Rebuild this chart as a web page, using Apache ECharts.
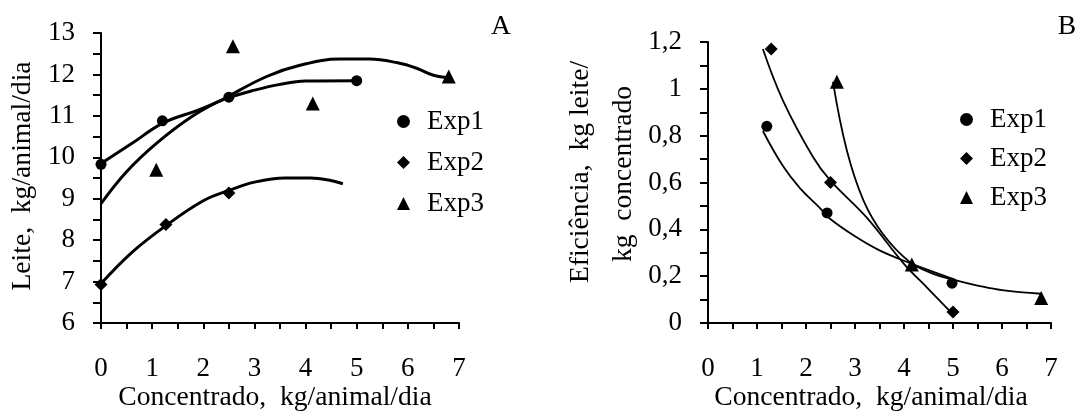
<!DOCTYPE html>
<html>
<head>
<meta charset="utf-8">
<script src="https://cdn.jsdelivr.net/npm/echarts@6/dist/echarts.min.js"></script>
<style>
html,body{margin:0;padding:0;background:#fff;}
#c{width:1077px;height:417px;}
</style>
</head>
<body>
<div id="c"></div>
<script>
// ---------- Data ----------
// Panel A: milk yield (kg/animal/day) vs concentrate (kg/animal/day)
const aExp1 = [[0, 9.83], [1.2, 10.88], [2.5, 11.45], [5.0, 11.85]];
const aExp2 = [[0, 6.93], [1.27, 8.38], [2.5, 9.14]];
const aExp3 = [[1.08, 9.7], [2.58, 12.68], [4.14, 11.3], [6.8, 11.95]];
// fitted curves
const aFit1 = [[0, 9.85], [0.6, 10.33], [1.2, 10.82], [1.9, 11.14], [2.5, 11.44], [3.0, 11.62], [3.5, 11.76], [4.0, 11.84], [5.0, 11.85]];
const aFit2 = [[0, 6.95], [0.6, 7.7], [1.27, 8.35], [2.0, 8.95], [2.5, 9.2], [3.0, 9.4], [3.6, 9.5], [4.1, 9.5], [4.45, 9.45], [4.73, 9.36]];
const aFit3 = [[0, 8.88], [0.5, 9.65], [1.09, 10.34], [1.8, 11.0], [2.46, 11.45], [3.24, 11.95], [3.89, 12.22], [4.67, 12.37], [5.25, 12.37], [5.8, 12.28], [6.17, 12.15], [6.5, 11.98], [6.8, 11.92]];

// Panel B: efficiency (kg milk / kg concentrate) vs concentrate
const bExp1 = [[1.2, 0.84], [2.43, 0.47], [4.98, 0.17]];
const bExp2 = [[1.29, 1.17], [2.5, 0.60], [5.0, 0.047]];
const bExp3 = [[2.63, 1.03], [4.16, 0.25], [6.8, 0.107]];
const bFit1 = [[1.12, 0.82], [1.53, 0.67], [1.88, 0.575], [2.29, 0.49], [2.49, 0.445], [3.0, 0.37], [3.5, 0.31], [4.12, 0.256], [4.98, 0.19]];
const bFit2 = [[1.12, 1.17], [1.53, 0.95], [2.14, 0.71], [2.49, 0.61], [3.24, 0.45], [3.99, 0.255], [4.5, 0.145], [4.94, 0.05]];
const bFit3 = [[2.55, 1.03], [2.83, 0.74], [3.17, 0.525], [3.57, 0.38], [4.12, 0.26], [4.6, 0.21], [5.0, 0.185], [5.5, 0.16], [6.0, 0.14], [6.8, 0.125]];

const seriesNames = ['Exp1', 'Exp2', 'Exp3'];
const symbols = ['circle', 'diamond', 'triangle'];
const xTicksMax = 7;
const yARange = [6, 13];
const yBRange = [0, 1.2];
const titles = {
  xA: 'Concentrado,  kg/animal/dia',
  xB: 'Concentrado,  kg/animal/dia',
  yA: 'Leite,  kg/animal/dia',
  yB1: 'Eficiência,  kg leite/',
  yB2: 'kg  concentrado',
  pA: 'A',
  pB: 'B'
};

// ---------- Chart ----------
const FONT = 'Liberation Serif';
const FS = 27;
const FT = 27.6;
const chart = echarts.init(document.getElementById('c'), null, {renderer: 'canvas'});

function xAxis(gi) {
  return {
    type: 'value', gridIndex: gi, min: 0, max: xTicksMax, interval: 1,
    axisLine: {onZero: false, lineStyle: {color: '#000', width: 2}},
    axisTick: {show: true, inside: false, length: 6, lineStyle: {color: '#000', width: 2}},
    minorTick: {show: true, splitNumber: 2, length: 6, lineStyle: {color: '#000', width: 2}},
    splitLine: {show: false},
    axisLabel: {color: '#000', fontFamily: FONT, fontSize: FS, margin: 32}
  };
}
function yAxis(gi, range, interval, fmt) {
  return {
    type: 'value', gridIndex: gi, min: range[0], max: range[1], interval: interval,
    axisLine: {show: true, onZero: false, lineStyle: {color: '#000', width: 2}},
    axisTick: {show: true, length: 8, lineStyle: {color: '#000', width: 2}},
    minorTick: {show: true, splitNumber: 2, length: 8, lineStyle: {color: '#000', width: 2}},
    splitLine: {show: false},
    axisLabel: {color: '#000', fontFamily: FONT, fontSize: FS, margin: 26, formatter: fmt}
  };
}
function scatter(name, data, sym, gi, size) {
  return {
    name: name, type: 'scatter', xAxisIndex: gi, yAxisIndex: gi, data: data,
    symbol: sym, symbolSize: size, itemStyle: {color: '#000', opacity: 1}, z: 5
  };
}
function fit(name, data, gi, w) {
  return {
    name: name, type: 'line', xAxisIndex: gi, yAxisIndex: gi, data: data,
    smooth: 0.4, showSymbol: false, symbol: 'none',
    lineStyle: {color: '#000', width: w}, z: 3, silent: true
  };
}
function txt(x, y, text, rot) {
  return {
    type: 'text', x: x, y: y, rotation: rot || 0,
    style: {text: text, font: FT + 'px "' + FONT + '"', fill: '#000', textAlign: 'center', textVerticalAlign: 'middle'}
  };
}
const legendCommon = {
  orient: 'vertical', itemWidth: 13, itemHeight: 13,
  itemStyle: {opacity: 1},
  textStyle: {color: '#000', fontFamily: FONT, fontSize: FS, padding: [0, 0, 0, 12]},
  data: seriesNames, selectedMode: false
};

const option = {
  backgroundColor: '#fff',
  animation: false,
  grid: [
    {left: 101, top: 33, width: 358, height: 290},
    {left: 708, top: 42, width: 343, height: 281}
  ],
  xAxis: [xAxis(0), xAxis(1)],
  yAxis: [
    yAxis(0, yARange, 1, null),
    yAxis(1, yBRange, 0.2, v => String(+v.toFixed(1)).replace('.', ','))
  ],
  legend: [
    Object.assign({}, legendCommon, {left: 392, top: 103, itemGap: 14}),
    Object.assign({}, legendCommon, {left: 955, top: 101, itemGap: 12})
  ],
  graphic: [
    txt(275, 398, titles.xA),
    txt(871, 398, titles.xB),
    txt(23, 176, titles.yA, Math.PI / 2),
    txt(581, 172, titles.yB1, Math.PI / 2),
    txt(624, 174, titles.yB2, Math.PI / 2),
    txt(501, 27, titles.pA),
    txt(1067, 27, titles.pB)
  ],
  series: [
    fit('fA1', aFit1, 0, 3), fit('fA2', aFit2, 0, 3), fit('fA3', aFit3, 0, 3),
    scatter('Exp1', aExp1, symbols[0], 0, 11),
    scatter('Exp2', aExp2, symbols[1], 0, 13),
    scatter('Exp3', aExp3, symbols[2], 0, 14),
    fit('fB1', bFit1, 1, 1.8), fit('fB2', bFit2, 1, 1.8), fit('fB3', bFit3, 1, 1.8),
    scatter('Exp1', bExp1, symbols[0], 1, 11),
    scatter('Exp2', bExp2, symbols[1], 1, 13),
    scatter('Exp3', bExp3, symbols[2], 1, 14)
  ]
};
chart.setOption(option);
</script>
</body>
</html>
